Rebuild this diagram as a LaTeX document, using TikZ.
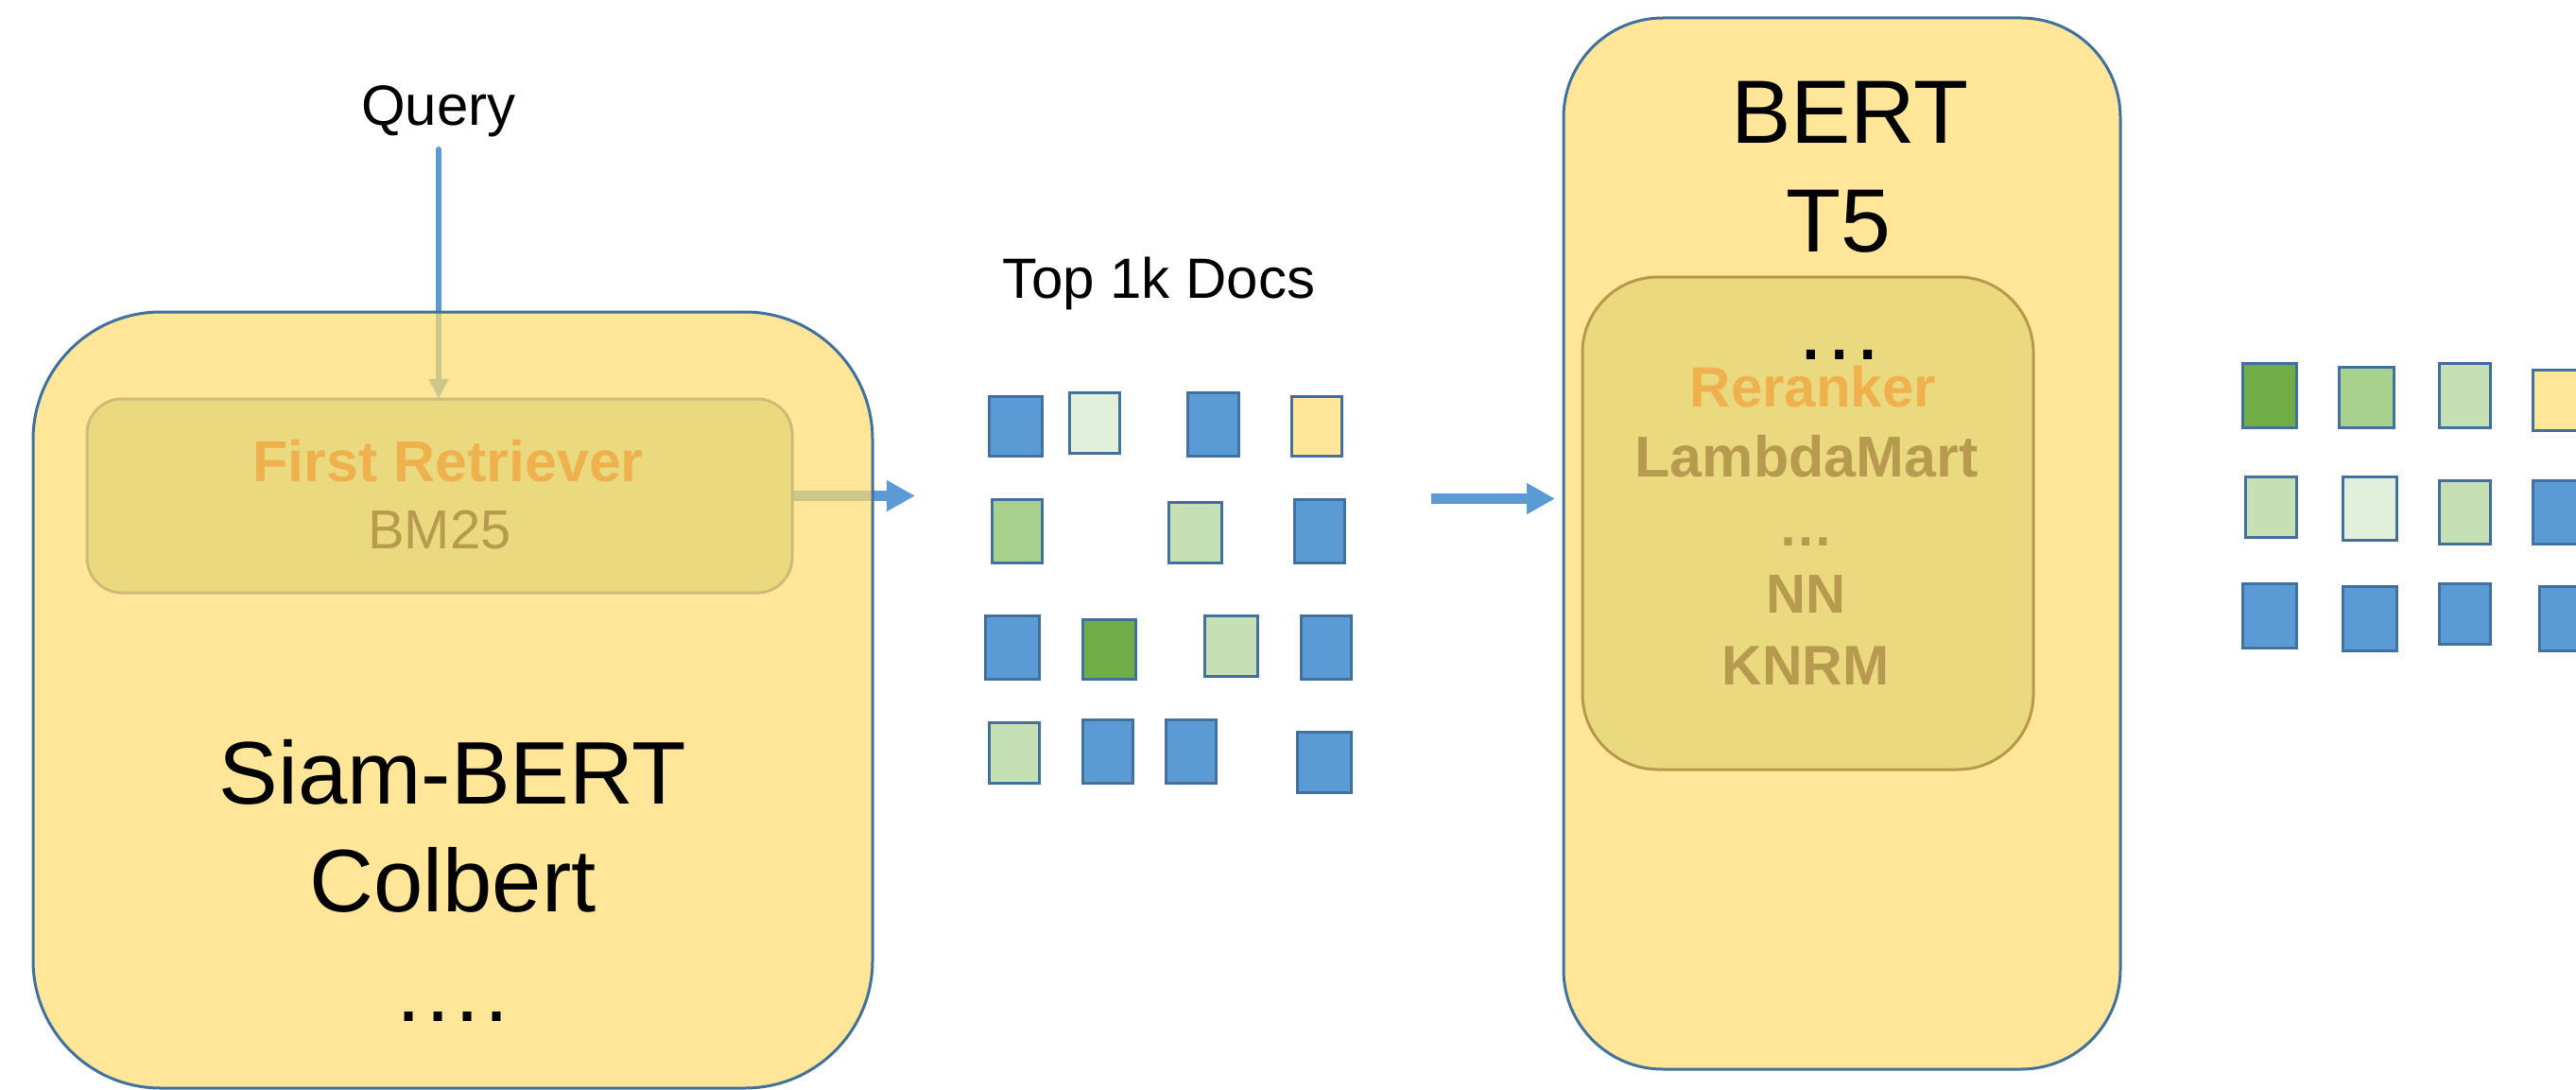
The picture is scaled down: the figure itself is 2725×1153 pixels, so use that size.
\documentclass[tikz,border=0pt]{standalone}
\usepackage{fontspec}
\setmainfont{Liberation Sans}
\usetikzlibrary{arrows.meta}

\definecolor{cblue}{HTML}{5B9BD5}
\definecolor{clight}{HTML}{E2EFDA}
\definecolor{cyellow}{HTML}{FFE699}
\definecolor{cmid}{HTML}{A9D18E}
\definecolor{clgreen}{HTML}{C5E0B4}
\definecolor{cdark}{HTML}{70AD47}
\definecolor{cborder}{HTML}{41719C}
\definecolor{boxfill}{RGB}{255,219,109}
\definecolor{innerfill}{HTML}{EBD980}
\definecolor{retborder}{HTML}{CDBB78}
\definecolor{rrborder}{HTML}{B8994A}
\definecolor{corange}{HTML}{EEB14D}
\definecolor{cbrown}{HTML}{B69A4E}

\tikzset{
  bigbox/.style={draw=cborder, line width=3pt, fill=boxfill, fill opacity=0.7},
  innerbox/.style={fill=innerfill, line width=3pt},
  doc/.style={draw=cborder, line width=3pt, inner sep=0pt, outer sep=0pt},
  sq/.style 2 args={minimum width=#1, minimum height=#2},
  lbl/.style={anchor=base, inner sep=0pt, outer sep=0pt, align=center},
  qarrow/.style={draw=cblue, line width=6pt, line cap=round,
    -{Triangle[length=21pt, width=20pt]}},
  farrow/.style={draw=cblue, line width=10.7pt,
    -{Triangle[length=30pt, width=31pt]}},
}

\begin{document}
\begin{tikzpicture}[x=1pt, y=-1pt]
\useasboundingbox (0,0) rectangle (2725,1153);
\clip (0,0) rectangle (2725,1153);

% anchor points of the free arrow ends
\coordinate (qstart) at (464,158);
\coordinate (docsin) at (968,524.5);
\coordinate (mstart) at (1514,527.5);
\coordinate (mend) at (1645,527.5);

% retrieval stage: its box sits over the arrows and shades them
\node[inner sep=0pt, minimum width=746, minimum height=205, rounded corners=37pt]
  (ret) at (465,524.5) {};
\draw[qarrow] (qstart) -- (qstart |- ret.north);
\draw[farrow] (ret.east) -- (docsin);
\draw[farrow] (mstart) -- (mend);

\node[bigbox, inner sep=0pt, minimum width=888, minimum height=821,
  rounded corners=135pt] (siam) at (479,740.5) {};
\node[bigbox, inner sep=0pt, minimum width=589, minimum height=1112,
  rounded corners=105pt] (bert) at (1948.5,575) {};

\node[innerbox, draw=retborder, inner sep=0pt, minimum width=746, minimum height=205,
  rounded corners=37pt] at (ret.center) {};
\node[innerbox, draw=rrborder, inner sep=0pt, minimum width=477, minimum height=521,
  rounded corners=80pt] (rr) at (1912.5,553.5) {};

% labels
\node[lbl, font=\fontsize{60}{72}\selectfont] (query) at (464,133) {Query};
\node[lbl, font=\fontsize{60}{72}\selectfont] (top) at (1226,315) {Top 1k Docs};

\node[lbl, font=\fontsize{61}{73}\selectfont\bfseries, text=corange] (retname) at (474,509.5) {First Retriever};
\node[lbl, font=\fontsize{58}{70}\selectfont, text=cbrown] (bm) at (465,580) {BM25};

\node[lbl, font=\fontsize{94}{113}\selectfont] (s1) at (479,850.5) {Siam-BERT};
\node[lbl, font=\fontsize{94}{113}\selectfont] (s2) at (479,964) {Colbert};
\node[lbl, font=\fontsize{94}{113}\selectfont] (s3) at (479,1080) {.\kern.055em.\kern.055em.\kern.055em.};

\node[lbl, font=\fontsize{95}{114}\selectfont] (b1) at (1957,151) {BERT};
\node[lbl, font=\fontsize{95}{114}\selectfont] (b2) at (1945,266) {T5};
\node[lbl, font=\fontsize{95}{114}\selectfont] (b3) at (1946,380) {…};

\node[lbl, font=\fontsize{60}{72}\selectfont\bfseries, text=corange] (rrname) at (1918,430) {Reranker};
\node[lbl, font=\fontsize{61}{73}\selectfont\bfseries, text=cbrown] (r1) at (1911,504) {LambdaMart};
\node[lbl, font=\fontsize{58}{70}\selectfont\bfseries, text=cbrown] (r2) at (1910,577) {…};
\node[lbl, font=\fontsize{58}{70}\selectfont\bfseries, text=cbrown] (r3) at (1910,648.5) {NN};
\node[lbl, font=\fontsize{59}{71}\selectfont\bfseries, text=cbrown] (r4) at (1910,724) {KNRM};

% retrieved documents
\node[doc, fill=cblue,   sq={56.7}{63.6}] (d1)  at (1074.5,451) {};
\node[doc, fill=clight,  sq={52.6}{64}]   (d2)  at (1157.8,447.5) {};
\node[doc, fill=cblue,   sq={53.4}{67}]   (d3)  at (1283.5,449) {};
\node[doc, fill=cyellow, sq={52.8}{63.6}] (d4)  at (1392.6,451) {};
\node[doc, fill=cmid,    sq={53.4}{67}]   (d5)  at (1076.2,562) {};
\node[doc, fill=clgreen, sq={56}{63.7}]   (d6)  at (1264.9,563.7) {};
\node[doc, fill=cblue,   sq={52.8}{67}]   (d7)  at (1395.9,562) {};
\node[doc, fill=cblue,   sq={56.6}{67}]   (d8)  at (1071.2,685) {};
\node[doc, fill=cdark,   sq={56.4}{63.6}] (d9)  at (1173.2,687) {};
\node[doc, fill=clgreen, sq={56.3}{63.7}] (d10) at (1302.6,683.7) {};
\node[doc, fill=cblue,   sq={53.3}{67}]   (d11) at (1402.9,685) {};
\node[doc, fill=clgreen, sq={53.3}{63.7}] (d12) at (1072.9,796.4) {};
\node[doc, fill=cblue,   sq={53.1}{67}]   (d13) at (1171.6,794.7) {};
\node[doc, fill=cblue,   sq={52.8}{67}]   (d14) at (1259.9,794.7) {};
\node[doc, fill=cblue,   sq={56.6}{63.7}] (d15) at (1401.2,806.4) {};

% reranked documents
\node[doc, fill=cdark,   sq={57.3}{67.4}] (o1)  at (2400.9,418.5) {};
\node[doc, fill=cmid,    sq={57.4}{64}]   (o2)  at (2503.5,420.2) {};
\node[doc, fill=clgreen, sq={53.7}{67.4}] (o3)  at (2607.7,418.5) {};
\node[doc, fill=cyellow, sq={57}{64}]     (o4)  at (2708.3,423.5) {};
\node[doc, fill=clgreen, sq={54}{63.7}]   (o5)  at (2402.5,536.7) {};
\node[doc, fill=clight,  sq={57.3}{67}]   (o6)  at (2506.9,538.3) {};
\node[doc, fill=clgreen, sq={53.7}{67}]   (o7)  at (2607.7,541.7) {};
\node[doc, fill=cblue,   sq={57}{67}]     (o8)  at (2708.2,541.7) {};
\node[doc, fill=cblue,   sq={57.3}{67.7}] (o9)  at (2400.9,651.3) {};
\node[doc, fill=cblue,   sq={57.3}{67.7}] (o10) at (2506.9,654.7) {};
\node[doc, fill=cblue,   sq={53.7}{64.3}] (o11) at (2607.7,649.7) {};
\node[doc, fill=cblue,   sq={57}{67.7}]   (o12) at (2715,654.7) {};
\end{tikzpicture}
\end{document}
